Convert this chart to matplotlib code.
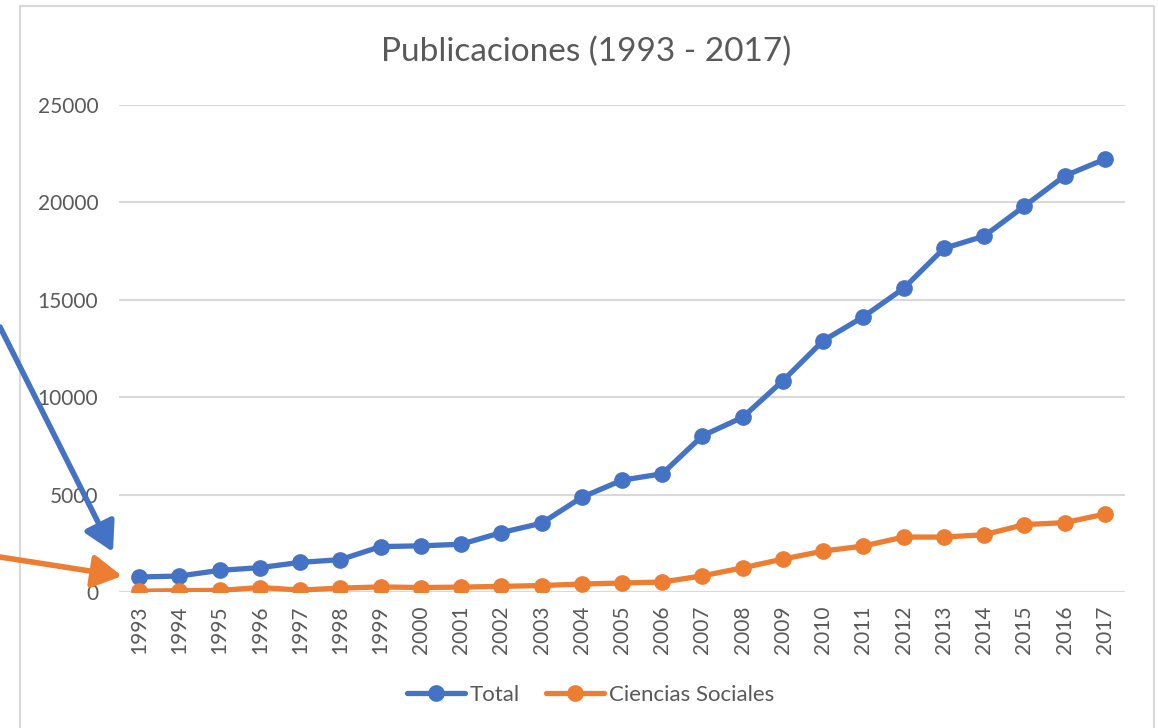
import numpy as np
import matplotlib
matplotlib.use('Agg')
import matplotlib.pyplot as plt
from matplotlib.patches import Rectangle, FancyArrowPatch

plt.rcParams['font.family'] = ['Lato', 'DejaVu Sans']

# datos
years = [str(y) for y in range(1993, 2018)]
total = [770, 820, 1110, 1250, 1520, 1660, 2330, 2370, 2450, 3050, 3530, 4860,
         5740, 6070, 8020, 8970, 10850, 12900, 14130, 15590, 17640, 18270,
         19810, 21360, 22220]
sociales = [40, 70, 80, 230, 100, 200, 260, 230, 250, 290, 330, 410,
            460, 510, 830, 1240, 1690, 2100, 2360, 2820, 2820, 2940,
            3460, 3560, 4000]
yticks = [0, 5000, 10000, 15000, 20000, 25000]

blue = '#4472C4'
orange = '#ED7D31'
gray_txt = '#595959'
grid_col = '#D9D9D9'

W, H = 1158, 728
fig = plt.figure(figsize=(W / 100, H / 100), dpi=100)

# marco del grafico (sale por abajo)
fig.add_artist(Rectangle((20 / W, -0.05), (1154 - 20) / W, (1 - 6 / H) + 0.05,
                         transform=fig.transFigure, fill=False,
                         edgecolor=grid_col, lw=1.5))

ax = fig.add_axes([119 / W, 1 - 592 / H, (1125 - 119) / W, (592 - 105) / H])
x = np.arange(len(years))
ax.plot(x, total, color=blue, lw=3.8, marker='o', ms=11, label='Total',
        solid_capstyle='round', zorder=3)
ax.plot(x, sociales, color=orange, lw=3.8, marker='o', ms=11,
        label='Ciencias Sociales', solid_capstyle='round', zorder=3)

ax.set_xlim(-0.5, len(years) - 0.5)
ax.set_ylim(0, 25000)
ax.set_yticks(yticks)
ax.set_yticklabels([str(v) for v in yticks])
ax.set_xticks(x)
ax.set_xticklabels(years, rotation=90)
ax.grid(axis='y', color=grid_col, lw=1.5)
ax.set_axisbelow(True)
for s in ['top', 'right', 'left', 'bottom']:
    ax.spines[s].set_visible(False)
ax.tick_params(axis='both', length=0, labelsize=15, labelcolor=gray_txt)
ax.tick_params(axis='y', pad=15)
ax.tick_params(axis='x', pad=10)

fig.text(0.506, 1 - 52 / H, 'Publicaciones (1993 - 2017)', ha='center',
         va='center', fontsize=24, color=gray_txt)

leg = fig.legend(loc='center', bbox_to_anchor=(0.51, 1 - 695 / H), ncol=2,
                 frameon=False, fontsize=16, handlelength=2.6,
                 columnspacing=1.2, handletextpad=0.2)
for t in leg.get_texts():
    t.set_color(gray_txt)

# flechas que vienen desde fuera
arrow = '-|>,head_length=0.8,head_width=0.45'
fig.add_artist(FancyArrowPatch(
    (0, 401), (113, 176), transform=None, arrowstyle=arrow,
    mutation_scale=22, lw=4, color=blue, shrinkA=0, shrinkB=0))
fig.add_artist(FancyArrowPatch(
    (0, 171), (122, 152), transform=None, arrowstyle=arrow,
    mutation_scale=22, lw=4, color=orange, shrinkA=0, shrinkB=0))

fig.savefig('out.png', dpi=100, facecolor='white')
